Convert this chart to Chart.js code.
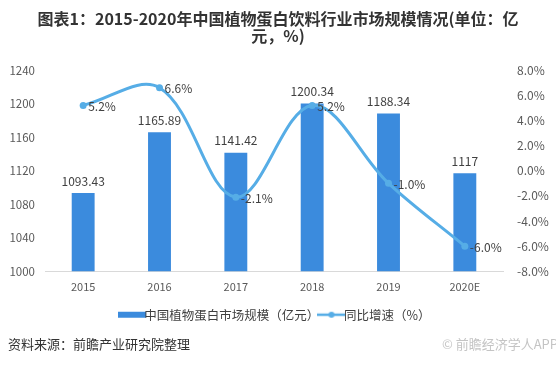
<!DOCTYPE html>
<html>
<head>
<meta charset="utf-8">
<script src="https://cdn.jsdelivr.net/npm/chart.js@4.4.1/dist/chart.umd.min.js"></script>
<style>
  body { margin: 0; background: #fff; }
  #wrap { width: 556px; height: 365px; }
</style>
</head>
<body>
<div id="wrap"><canvas id="market-chart"></canvas></div>
<script>
/* Chart data */
let years = ['2015', '2016', '2017', '2018', '2019', '2020E']
let marketSize = [1093.43, 1165.89, 1141.42, 1200.34, 1188.34, 1117]   // 亿元
let growthRate = [5.2, 6.6, -2.1, 5.2, -1.0, -6.0]                      // %
let leftTicks = [1000, 1040, 1080, 1120, 1160, 1200, 1240]
let rightTicks = [-8, -6, -4, -2, 0, 2, 4, 6, 8]

let barColor = '#3b8bdd'
let lineColor = '#56ade6'
let textColor = '#404040'
let fontFamily = '"Noto Sans CJK SC", "Noto Sans", sans-serif'

/* small legend swatches, drawn on their own canvases */
function makeSwatch(kind) {
    let c = document.createElement('canvas')
    c.width = 28
    c.height = 8
    let g = c.getContext('2d')
    if (kind == 'bar') {
        g.fillStyle = barColor
        g.fillRect(0, 1, 28, 6)
    } else {
        g.strokeStyle = lineColor
        g.lineWidth = 2.5
        g.beginPath()
        g.moveTo(0, 4)
        g.lineTo(28, 4)
        g.stroke()
        g.fillStyle = lineColor
        g.beginPath()
        g.arc(14, 4, 3, 0, Math.PI * 2)
        g.fill()
    }
    return c
}

/* value labels + footer text */
let labelPlugin = {
    id: 'labels',
    afterDatasetsDraw(chart) {
        let ctx = chart.ctx
        ctx.save()
        ctx.font = '12px ' + fontFamily
        ctx.fillStyle = textColor

        let bars = chart.getDatasetMeta(0).data
        ctx.textAlign = 'center'
        ctx.textBaseline = 'bottom'
        bars.forEach(function(bar, i) {
            ctx.fillText(String(marketSize[i]), bar.x, bar.y - 6)
        })

        let points = chart.getDatasetMeta(1).data
        ctx.textAlign = 'left'
        ctx.textBaseline = 'middle'
        points.forEach(function(pt, i) {
            ctx.fillText(growthRate[i].toFixed(1) + '%', pt.x + 5, pt.y + 1)
        })

        // footer
        ctx.font = '13px ' + fontFamily
        ctx.fillStyle = '#333'
        ctx.textAlign = 'left'
        ctx.fillText('资料来源：前瞻产业研究院整理', 8, 344)
        ctx.fillStyle = '#c4c4c4'
        ctx.textAlign = 'right'
        ctx.fillText('© 前瞻经济学人APP', 558, 344)
        ctx.restore()
    }
}

let chartCtx = document.querySelector('#market-chart').getContext('2d')

let marketChart = new Chart(chartCtx, {
    type: 'bar',
    data: {
        labels: years,
        datasets: [
            {
                label: '中国植物蛋白市场规模（亿元）',
                data: marketSize,
                backgroundColor: barColor,
                barPercentage: 0.3,
                categoryPercentage: 1,
                yAxisID: 'y',
                order: 2
            },
            {
                type: 'line',
                label: '同比增速（%）',
                data: growthRate,
                borderColor: lineColor,
                backgroundColor: lineColor,
                borderWidth: 3,
                pointRadius: 3.5,
                pointBackgroundColor: lineColor,
                pointBorderWidth: 0,
                tension: 0.36,
                yAxisID: 'y1',
                order: 1
            }
        ]
    },
    options: {
        responsive: true,
        maintainAspectRatio: false,
        animation: false,
        layout: { padding: { left: 0, right: 0, top: 8, bottom: 34 } },
        plugins: {
            title: {
                display: true,
                text: ['图表1：2015-2020年中国植物蛋白饮料行业市场规模情况(单位：亿', '元，%)'],
                color: '#333',
                font: { family: fontFamily, size: 16, weight: 'bold', lineHeight: 1.1 },
                padding: { top: 2, bottom: 25 }
            },
            legend: {
                position: 'bottom',
                labels: {
                    usePointStyle: true,
                    color: textColor,
                    font: { family: fontFamily, size: 12.5 },
                    padding: 6,
                    generateLabels: function(chart) {
                        return chart.data.datasets.map(function(ds, i) {
                            return {
                                text: ds.label,
                                pointStyle: makeSwatch(i == 0 ? 'bar' : 'line'),
                                fontColor: textColor,
                                datasetIndex: i,
                                hidden: false
                            }
                        })
                    }
                }
            },
            tooltip: { enabled: false }
        },
        scales: {
            x: {
                grid: { display: false, drawTicks: false },
                border: { color: '#d9d9d9' },
                ticks: { color: '#595959', font: { family: fontFamily, size: 11 }, padding: 9 }
            },
            y: {
                position: 'left',
                min: 1000,
                max: 1240,
                afterBuildTicks: function(axis) {
                    axis.ticks = leftTicks.map(function(v) { return { value: v } })
                },
                afterFit: function(axis) { axis.width = 45 },
                grid: { display: false, drawTicks: false },
                border: { display: false },
                ticks: {
                    color: '#595959',
                    font: { family: fontFamily, size: 11.5 },
                    padding: 10,
                    callback: function(v) { return String(v) }
                }
            },
            y1: {
                position: 'right',
                min: -8,
                max: 8,
                afterBuildTicks: function(axis) {
                    axis.ticks = rightTicks.map(function(v) { return { value: v } })
                },
                afterFit: function(axis) { axis.width = 53 },
                grid: { display: false, drawTicks: false },
                border: { display: false },
                ticks: {
                    color: '#595959',
                    font: { family: fontFamily, size: 12 },
                    padding: 14,
                    callback: function(v) { return Number(v).toFixed(1) + '%' }
                }
            }
        }
    },
    plugins: [labelPlugin]
})
</script>
</body>
</html>
